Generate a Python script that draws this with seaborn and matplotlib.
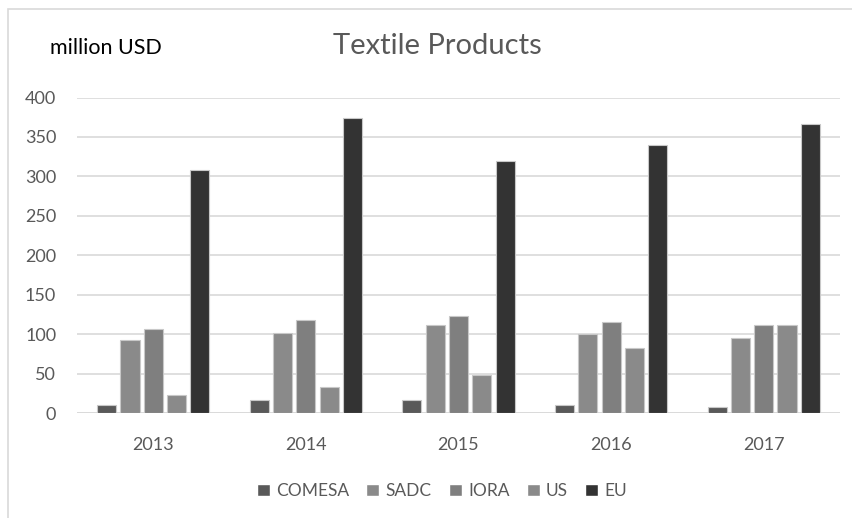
import matplotlib
matplotlib.use("Agg")
import matplotlib.pyplot as plt
from matplotlib.patches import Rectangle
import pandas as pd
import seaborn as sns

# Textile product exports by destination bloc, million USD
years = ["2013", "2014", "2015", "2016", "2017"]
regions = ["COMESA", "SADC", "IORA", "US", "EU"]
comesa = [10, 16.5, 16.5, 10, 7]
sadc = [93, 102, 111.5, 100, 95.5]
iora = [107, 118, 123, 115.5, 111.5]
us = [23, 32.5, 48, 82, 111.5]
eu = [308, 373.5, 319, 340, 367]
colors = ["#595959", "#8a8a8a", "#7f7f7f", "#8a8a8a", "#333333"]

series = dict(zip(regions, [comesa, sadc, iora, us, eu]))
df = pd.DataFrame(
    [(y, r, v) for r, vals in series.items() for y, v in zip(years, vals)],
    columns=["year", "region", "value"],
)

sns.set_theme(style="white")
plt.rcParams["font.family"] = ["Lato", "DejaVu Sans"]

fig = plt.figure(figsize=(8.53, 5.18), dpi=100)
ax = fig.add_axes([77 / 853, 1 - 413 / 518, (840 - 77) / 853, (413 - 97.5) / 518])

sns.barplot(
    data=df, x="year", y="value", hue="region", order=years, hue_order=regions,
    palette=colors, width=0.764, gap=0.18, edgecolor="#c8c8c8", linewidth=0.8,
    ax=ax, legend=False, zorder=3,
)

ax.set_ylim(0, 400)
ax.set_yticks(range(0, 401, 50))
ax.set_xlim(-0.5, 4.5)
ax.grid(axis="y", color="#d9d9d9", linewidth=1.2, zorder=0)
ax.set_axisbelow(True)
for s in ax.spines.values():
    s.set_visible(False)
ax.axhline(0, color="#d9d9d9", linewidth=1.2, zorder=1)
ax.set_xlabel("")
ax.set_ylabel("")
ax.tick_params(axis="y", length=0, pad=15, labelsize=13, labelcolor="#595959")
ax.tick_params(axis="x", length=0, pad=17, labelsize=13, labelcolor="#595959")

fig.text(50 / 853, 1 - 48 / 518, "million USD", fontsize=15.5, color="black",
         va="center", ha="left")
fig.text(437.5 / 853, 1 - 46 / 518, "Textile Products", fontsize=21,
         color="#595959", va="center", ha="center")

handles = [Rectangle((0, 0), 1, 1, facecolor=c) for c in colors]
fig.legend(handles, regions, loc="center", bbox_to_anchor=(442 / 853, 1 - 491 / 518),
           ncol=5, frameon=False, fontsize=12.5, labelcolor="#595959",
           handlelength=0.75, handleheight=0.75, handletextpad=0.35,
           columnspacing=1.0)

# chart frame
fig.patches.append(Rectangle((8 / 853, -0.1), 1.2, 1 - 9 / 518 + 0.1,
                             transform=fig.transFigure, fill=False,
                             edgecolor="#d9d9d9", linewidth=1.2))

fig.savefig("out.png", dpi=100)
